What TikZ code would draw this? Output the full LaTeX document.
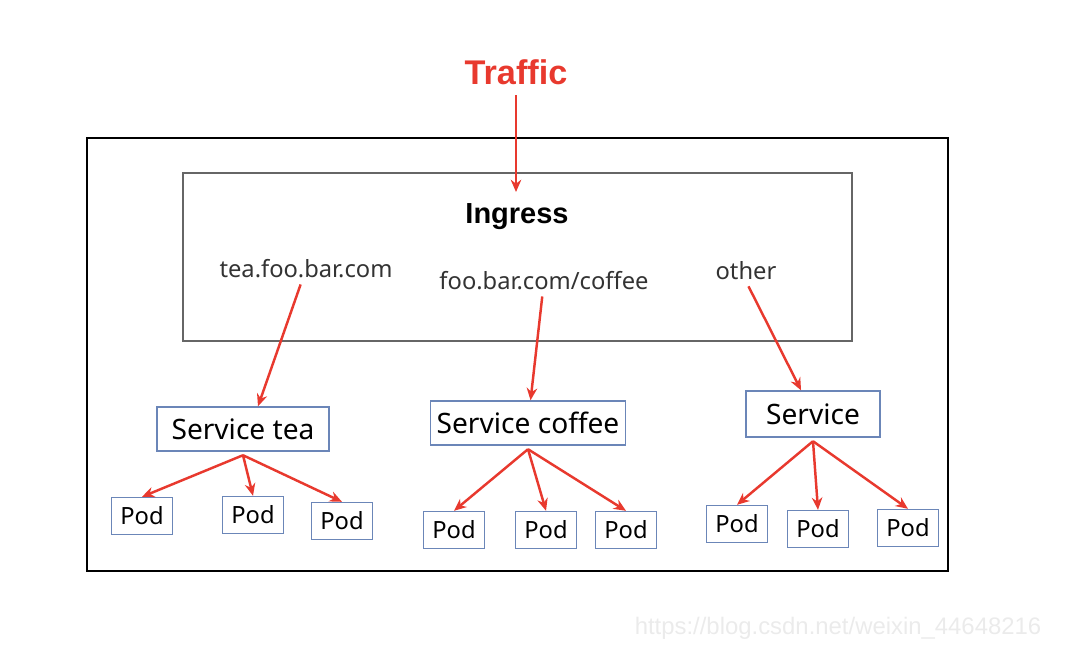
\documentclass[tikz,border=0pt]{standalone}
\usepackage{fontspec}
\setmainfont{Noto Sans}
\newfontfamily\wmfont{Liberation Sans}
\usetikzlibrary{positioning, arrows.meta}

\definecolor{trafficred}{HTML}{E8392E}
\definecolor{boxblue}{HTML}{6B86B8}

\tikzset{
  flow/.style = {draw=trafficred, line width=1.4pt, -{Stealth[length=7pt, width=6pt]}},
  svc/.style = {draw=boxblue, line width=0.8pt, font=\fontsize{16}{18}\selectfont, minimum height=0.88cm, inner sep=2pt},
  pod/.style = {draw=boxblue, line width=0.8pt, font=\fontsize{13.5}{16}\selectfont, minimum width=1.22cm, minimum height=0.74cm, inner sep=1pt},
  host/.style = {font=\fontsize{13.5}{16}\selectfont, text=black!80}
}

\begin{document}
\begin{tikzpicture}[x=0.02cm, y=-0.02cm]
            \useasboundingbox (0,0) rectangle (1079,654);
            % frames
            \draw [line width=1.6pt] (87,138) rectangle (948,571);
            \draw [black!60, line width=1pt] (183,173) rectangle (852,341);
            % top
            \node (Traffic) at (516,72) {\wmfont\fontsize{19.5}{22}\selectfont\bfseries\color{trafficred}Traffic};
            \node (Ingress) at (517,217) {\wmfont\fontsize{16.5}{19}\selectfont\bfseries Ingress};
            \coordinate (IngressTop) at (516,192);
            \draw [flow] ([yshift=-2.5pt]Traffic.south) -- (IngressTop);
            % hosts
            \node [host] (TeaHost) at (306,269) {tea.foo.bar.com};
            \node [host] (CoffeeHost) at (544,281) {foo.bar.com/coffee};
            \node [host] (OtherHost) at (746,271) {other};
            % services
            \node [svc, minimum width=3.44cm] (SvcTea) at (243,429) {Service tea};
            \node [svc, minimum width=3.9cm] (SvcCoffee) at (528,423) {Service coffee};
            \node [svc, minimum width=2.68cm, minimum height=0.92cm] (SvcOther) at (813,414) {Service};
            \draw [flow] (TeaHost) -- ([xshift=0.3cm]SvcTea.north);
            \draw [flow] (CoffeeHost) -- (SvcCoffee);
            \draw [flow] ([xshift=0.05cm]OtherHost.south) -- (SvcOther);
            % pods
            \node [pod] (TeaPodA) at (142,516) {Pod};
            \node [pod] (TeaPodB) at (253,515) {Pod};
            \node [pod] (TeaPodC) at (342,521) {Pod};
            \node [pod] (CoffeePodA) at (454,530) {Pod};
            \node [pod] (CoffeePodB) at (546,530) {Pod};
            \node [pod] (CoffeePodC) at (626,530) {Pod};
            \node [pod] (OtherPodA) at (737,524) {Pod};
            \node [pod] (OtherPodB) at (818,529) {Pod};
            \node [pod] (OtherPodC) at (908,528) {Pod};
            \foreach \s/\p in {SvcTea/TeaPod, SvcCoffee/CoffeePod, SvcOther/OtherPod}
              \foreach \i in {A,B,C}
                \draw [flow] ([yshift=-2pt]\s.south) -- (\p\i.north);
            % watermark
            \node (Mark) at (838,628) {\wmfont\fontsize{13.6}{16}\selectfont\color{black!8}https://blog.csdn.net/weixin\_44648216};
        \end{tikzpicture}
\end{document}
